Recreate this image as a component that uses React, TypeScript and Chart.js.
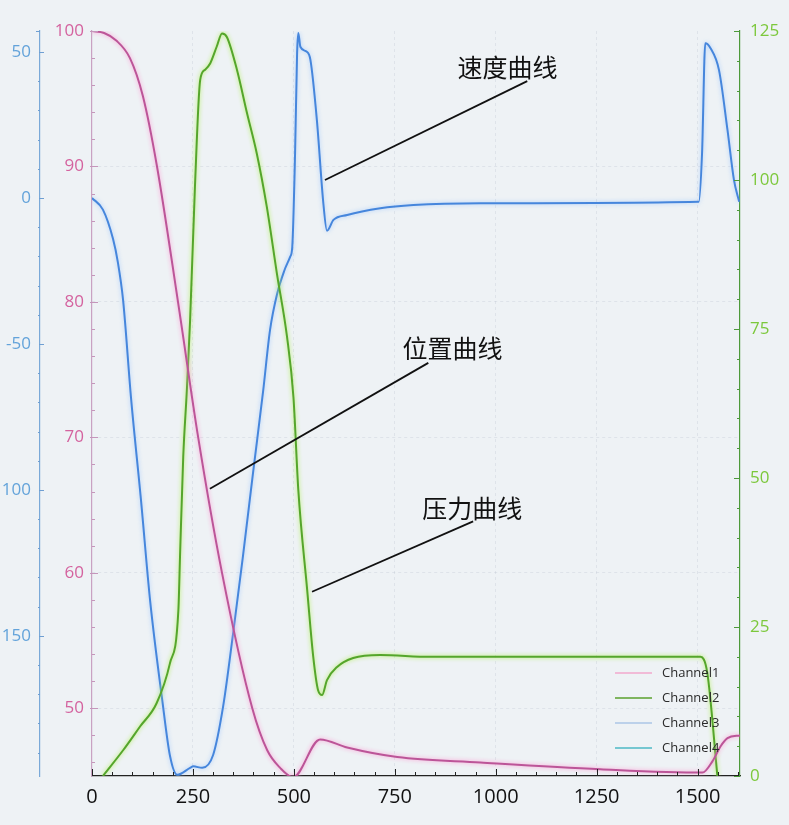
import React, { useEffect, useRef } from 'react';
import { Chart, registerables } from 'chart.js';

Chart.register(...registerables);

// ---------------- data ----------------
const channelNames = ['Channel1', 'Channel2', 'Channel3', 'Channel4'];

// Channel1: position curve (left pink axis)
const posX = [0, 30, 60, 94, 126, 161, 213, 263, 322, 397, 434, 466, 498, 565, 632, 756, 962, 1259, 1512, 1537, 1557, 1574, 1606];
const posY = [100, 99.85, 99.3, 98.0, 95.2, 90, 80, 70, 60, 50, 46.9, 45.6, 44.9, 47.7, 47.1, 46.4, 46.0, 45.5, 45.25, 46.1, 47.2, 47.8, 48.0];

// Channel2: pressure curve (right green axis)
const presX = [27, 78, 119, 160, 193, 214, 218, 226, 235, 243, 255, 268, 280, 293, 309, 322, 334, 359, 384, 408, 433, 458, 483, 499, 511, 533, 548, 560, 570, 582, 607, 647, 714, 838, 962, 1507, 1524, 1549];
const presY = [0, 4.4, 8.3, 12.2, 18.9, 27.9, 36.8, 53.6, 64.8, 76.5, 98.9, 116.8, 118.5, 119.6, 122.4, 124.6, 124.0, 118.5, 111.2, 104.5, 95.5, 84.3, 73.7, 63.5, 48.0, 31.2, 20.0, 14.4, 13.6, 16.1, 18.3, 19.8, 20.3, 20.0, 20.0, 20.0, 17.3, 0];

// Channel3: velocity curve (outer blue axis)
const velX = [0, 27, 52, 64, 77, 97, 121, 144, 174, 193, 211, 243, 251, 273, 300, 325, 350, 374, 399, 424, 441, 459, 476, 491, 496, 503, 508, 511, 516, 532, 541, 557, 573, 582, 598, 632, 714, 796, 962, 1503, 1511, 1519, 1532, 1553, 1574, 1590, 1603];
const velY = [0, -4, -14, -22, -35, -69, -103, -138, -172, -191, -197.6, -195.2, -194.7, -195.2, -190.8, -174, -148.6, -122.6, -94, -66, -45.2, -32.6, -25, -20.1, -16.8, 15.4, 49.7, 56.5, 51.8, 50.1, 47.3, 26.7, -1.8, -11.2, -7.5, -5.8, -3.5, -2.4, -1.8, -1.3, 15.3, 53.0, 51.3, 43.8, 23.3, 6.2, -1.3];

// Channel4: no visible data
const ch4X: number[] = [];
const ch4Y: number[] = [];

// tick labels
const xTickValues = [0, 250, 500, 750, 1000, 1250, 1500];
const velTickValues = [50, 0, -50, -100, -150];
const velTickText = ['50', '0', '-50', '100', '150'];
const posTickValues = [50, 60, 70, 80, 90, 100];
const presTickValues = [0, 25, 50, 75, 100, 125];

// annotations (x in data units, y on the position axis)
const annoText = ['速度曲线', '位置曲线', '压力曲线'];
const annoFromX = [577, 292, 545];
const annoFromY = [89.0, 66.2, 58.6];
const annoToX = [1078, 833, 944];
const annoToY = [96.3, 75.5, 63.8];
const annoTextX = [905, 769, 818];
const annoTextY = [97.34, 76.55, 64.76];

const legendColors = ['#f2a9cd', '#5aa02c', '#abc6e6', '#4db9c4'];

// ---------------- styling ----------------
const FONT = '"Open Sans", "Noto Sans", sans-serif';
const CJK = '"Noto Sans CJK SC", "Noto Sans", sans-serif';
const BG = '#eef2f5';

const pts = (xs: number[], ys: number[]) => xs.map((x, i) => ({ x, y: ys[i] }));

const bgPlugin = {
  id: 'bgFill',
  beforeDraw(chart: any) {
    const { ctx, width, height } = chart;
    ctx.save();
    ctx.fillStyle = BG;
    ctx.fillRect(0, 0, width, height);
    ctx.restore();
  },
};

const glowPlugin = {
  id: 'glow',
  beforeDatasetDraw(chart: any, args: any) {
    const ds = chart.data.datasets[args.index];
    chart.ctx.save();
    if (ds.glowColor) {
      chart.ctx.shadowColor = ds.glowColor;
      chart.ctx.shadowBlur = 4;
    }
  },
  afterDatasetDraw(chart: any) {
    chart.ctx.restore();
  },
};

const tickPlugin = {
  id: 'tickMarks',
  afterDraw(chart: any) {
    const ctx = chart.ctx;
    const s = chart.scales;
    ctx.save();
    ctx.lineWidth = 1;
    // x axis: ticks pointing up into the plot
    {
      const sc = s.x;
      ctx.strokeStyle = '#222';
      for (let i = 0; i * 50 <= sc.max; i++) {
        const v = i * 50;
        const p = Math.round(sc.getPixelForValue(v)) + 0.5;
        const len = v % 250 === 0 ? 7 : 4;
        ctx.beginPath();
        ctx.moveTo(p, sc.top);
        ctx.lineTo(p, sc.top - len);
        ctx.stroke();
      }
    }
    // pink axis
    {
      const sc = s.yPos;
      ctx.strokeStyle = '#c596bb';
      for (let v = 46; v <= 100; v += 2) {
        const p = Math.round(sc.getPixelForValue(v)) + 0.5;
        const len = v % 10 === 0 ? 6 : 3;
        ctx.beginPath();
        ctx.moveTo(sc.right - (v % 10 === 0 ? 2 : 0), p);
        ctx.lineTo(sc.right + len, p);
        ctx.stroke();
      }
    }
    // blue axis
    {
      const sc = s.yVel;
      ctx.strokeStyle = '#6f9fd2';
      for (let v = -190; v <= 50; v += 10) {
        const p = Math.round(sc.getPixelForValue(v)) + 0.5;
        const major = v % 50 === 0;
        ctx.beginPath();
        if (major) {
          ctx.moveTo(sc.right - 1, p);
          ctx.lineTo(sc.right + 4, p);
        } else {
          ctx.moveTo(sc.right - 2, p);
          ctx.lineTo(sc.right, p);
        }
        ctx.stroke();
      }
      ctx.beginPath();
      ctx.moveTo(sc.right - 4, sc.top + 0.5);
      ctx.lineTo(sc.right, sc.top + 0.5);
      ctx.stroke();
    }
    // green axis
    {
      const sc = s.yPres;
      ctx.strokeStyle = '#4d9a3a';
      for (let v = 0; v <= 125; v += 5) {
        const p = Math.round(sc.getPixelForValue(v)) + 0.5;
        const len = v % 25 === 0 ? 6 : 3;
        ctx.beginPath();
        ctx.moveTo(sc.left, p);
        ctx.lineTo(sc.left - len, p);
        ctx.stroke();
      }
    }
    ctx.restore();
  },
};

const annoPlugin = {
  id: 'annotations',
  afterDraw(chart: any) {
    const ctx = chart.ctx;
    const xs = chart.scales.x;
    const ys = chart.scales.yPos;
    ctx.save();
    ctx.strokeStyle = '#111';
    ctx.lineWidth = 1.8;
    ctx.fillStyle = '#111';
    ctx.font = `25px ${CJK}`;
    ctx.textBaseline = 'middle';
    ctx.textAlign = 'left';
    for (let i = 0; i < annoText.length; i++) {
      ctx.beginPath();
      ctx.moveTo(xs.getPixelForValue(annoFromX[i]), ys.getPixelForValue(annoFromY[i]));
      ctx.lineTo(xs.getPixelForValue(annoToX[i]), ys.getPixelForValue(annoToY[i]));
      ctx.stroke();
      ctx.fillText(annoText[i], xs.getPixelForValue(annoTextX[i]), ys.getPixelForValue(annoTextY[i]));
    }
    ctx.restore();
  },
};

const legendPlugin = {
  id: 'innerLegend',
  afterDraw(chart: any) {
    const ctx = chart.ctx;
    const area = chart.chartArea;
    ctx.save();
    ctx.font = `13px ${FONT}`;
    ctx.textBaseline = 'middle';
    ctx.textAlign = 'left';
    chart.data.datasets.forEach((ds: any, i: number) => {
      const y = area.bottom - 103 + i * 25;
      ctx.strokeStyle = legendColors[i];
      ctx.lineWidth = 1.5;
      ctx.beginPath();
      ctx.moveTo(area.right - 125, y);
      ctx.lineTo(area.right - 88, y);
      ctx.stroke();
      ctx.fillStyle = '#2a2a2a';
      ctx.fillText(ds.label, area.right - 78, y);
    });
    ctx.restore();
  },
};

export default function App() {
  const ref = useRef<HTMLCanvasElement | null>(null);

  useEffect(() => {
    if (!ref.current) return;
    const faint = 'rgba(175,185,198,0.25)';
    const chart = new Chart(ref.current, {
      type: 'line',
      data: {
        datasets: [
          {
            label: channelNames[0],
            data: pts(posX, posY),
            yAxisID: 'yPos',
            borderColor: '#bc5598',
            borderWidth: 2,
            pointRadius: 0,
            cubicInterpolationMode: 'monotone',
            glowColor: 'rgba(255,150,210,0.95)',
          } as any,
          {
            label: channelNames[1],
            data: pts(presX, presY),
            yAxisID: 'yPres',
            borderColor: '#55a62b',
            borderWidth: 2,
            pointRadius: 0,
            cubicInterpolationMode: 'monotone',
            glowColor: 'rgba(175,240,80,0.95)',
          } as any,
          {
            label: channelNames[2],
            data: pts(velX, velY),
            yAxisID: 'yVel',
            borderColor: '#4686dc',
            borderWidth: 2,
            pointRadius: 0,
            cubicInterpolationMode: 'monotone',
            glowColor: 'rgba(150,195,255,0.8)',
          } as any,
          {
            label: channelNames[3],
            data: pts(ch4X, ch4Y),
            yAxisID: 'yVel',
            borderColor: legendColors[3],
            borderWidth: 2,
            pointRadius: 0,
          } as any,
        ],
      },
      options: {
        responsive: false,
        animation: false,
        layout: { padding: { top: 31, left: 0, right: 0, bottom: 0 } },
        plugins: { legend: { display: false }, tooltip: { enabled: false } },
        scales: {
          x: {
            type: 'linear',
            position: 'bottom',
            min: 0,
            max: 1605,
            ticks: {
              stepSize: 50,
              autoSkip: false,
              maxRotation: 0,
              includeBounds: false,
              padding: 9,
              color: '#111',
              font: { family: FONT, size: 20 },
              callback: (v: any) => (xTickValues.includes(Number(v)) ? String(v) : ''),
            },
            grid: {
              drawTicks: false,
              color: (c: any) =>
                c.tick && c.tick.value > 0 && c.tick.value % 250 === 0 ? faint : 'rgba(0,0,0,0)',
            },
            border: { color: '#222', width: 1.2, dash: [3, 3] },
            afterFit: (sc: any) => {
              sc.height = 49;
            },
          },
          yVel: {
            type: 'linear',
            position: 'left',
            weight: 1,
            min: -198,
            max: 57.2,
            ticks: {
              stepSize: 50,
              includeBounds: false,
              padding: 9,
              color: '#63a3da',
              font: { family: FONT, size: 17 },
              callback: (v: any) => {
                const k = velTickValues.indexOf(Number(v));
                return k >= 0 ? velTickText[k] : '';
              },
            },
            grid: { display: false, drawTicks: false },
            border: { color: '#7aa9d8', width: 1.2 },
            afterFit: (sc: any) => {
              sc.width = 40;
            },
          },
          yPos: {
            type: 'linear',
            position: 'left',
            weight: 0,
            min: 45,
            max: 100,
            ticks: {
              stepSize: 10,
              includeBounds: false,
              padding: 8,
              color: '#d4639f',
              font: { family: FONT, size: 17 },
              callback: (v: any) => (posTickValues.includes(Number(v)) ? String(v) : ''),
            },
            grid: {
              drawTicks: false,
              color: (c: any) => (c.tick && c.tick.value < 100 ? faint : 'rgba(0,0,0,0)'),
            },
            border: { color: '#c9a2c2', width: 1.2, dash: [3, 3] },
            afterFit: (sc: any) => {
              sc.width = 52;
            },
          },
          yPres: {
            type: 'linear',
            position: 'right',
            min: 0,
            max: 125,
            ticks: {
              stepSize: 25,
              padding: 10,
              color: '#7cc83c',
              font: { family: FONT, size: 17 },
              callback: (v: any) => (presTickValues.includes(Number(v)) ? String(v) : ''),
            },
            grid: { display: false, drawTicks: false },
            border: { color: '#4d9a3a', width: 1.2 },
            afterFit: (sc: any) => {
              sc.width = 49;
            },
          },
        },
      } as any,
      plugins: [bgPlugin, glowPlugin, tickPlugin, annoPlugin, legendPlugin],
    });
    return () => chart.destroy();
  }, []);

  return (
    <div style={{ position: 'fixed', left: 0, top: 0, width: 789, height: 825, background: BG }}>
      <canvas ref={ref} width={789} height={825} style={{ display: 'block', width: 789, height: 825 }} />
    </div>
  );
}
